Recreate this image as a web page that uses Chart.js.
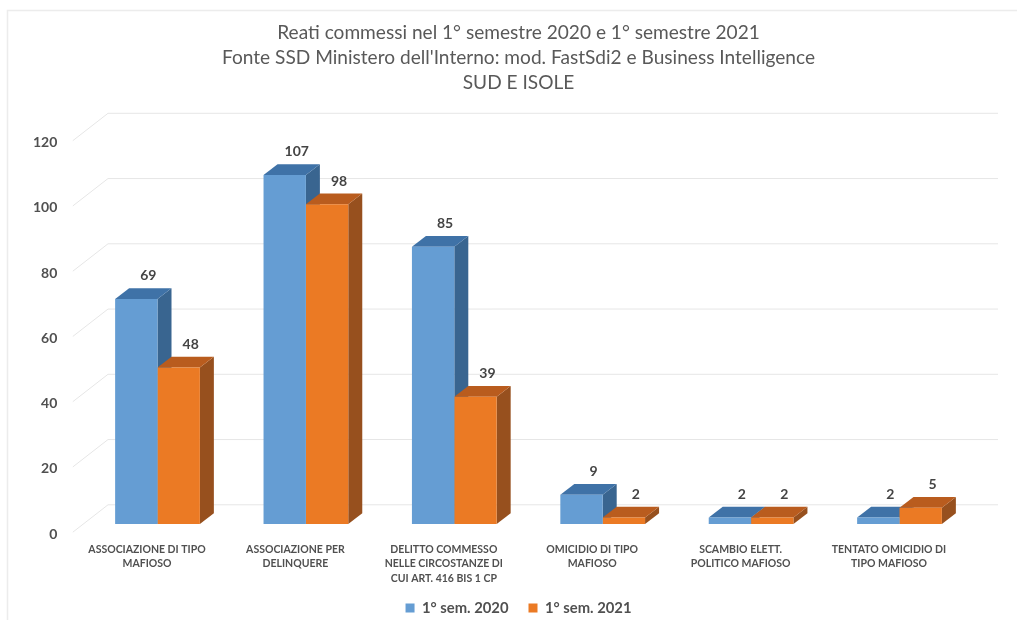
<!DOCTYPE html>
<html>
<head>
<meta charset="utf-8">
<style>
  html, body { margin: 0; padding: 0; background: #fff; overflow: hidden; }
  canvas { display: block; }
</style>
<script src="https://cdn.jsdelivr.net/npm/chart.js@4"></script>
</head>
<body>
<canvas id="chart" width="1017" height="620"></canvas>
<script>
const categories = [
  ['ASSOCIAZIONE DI TIPO', 'MAFIOSO'],
  ['ASSOCIAZIONE PER', 'DELINQUERE'],
  ['DELITTO COMMESSO', 'NELLE CIRCOSTANZE DI', 'CUI ART. 416 BIS 1 CP'],
  ['OMICIDIO DI TIPO', 'MAFIOSO'],
  ['SCAMBIO ELETT.', 'POLITICO MAFIOSO'],
  ['TENTATO OMICIDIO DI', 'TIPO MAFIOSO'],
];
const sem2020 = [69, 107, 85, 9, 2, 2];
const sem2021 = [48, 98, 39, 2, 2, 5];
const seriesNames = ['1° sem. 2020', '1° sem. 2021'];
const titleLines = [
  'Reati commessi nel 1° semestre 2020 e 1° semestre 2021',
  "Fonte SSD Ministero dell'Interno: mod. FastSdi2 e Business Intelligence",
  'SUD E ISOLE',
];

const fontFamily = 'Lato, sans-serif';
const textColor = '#505050';
const gridColor = '#e6e6e6';
// front, top and side face of each series
const faces = [
  { front: '#659dd3', top: '#3f72a7', side: '#396590' },
  { front: '#eb7a24', top: '#b95c1e', side: '#97501e' },
];
const barDepth = { x: 14, y: 10.7 };

// frame, walls and the top/side faces go under the library's bars
const box3d = {
  id: 'box3d',
  afterLayout(chart) {
    // the x labels get clipped to the scale box, the third line needs more room
    chart.scales.x.bottom += 12;
  },
  beforeDraw(chart) {
    const { ctx } = chart;
    ctx.save();
    ctx.strokeStyle = '#ececec';
    ctx.lineWidth = 1.5;
    ctx.beginPath();
    ctx.moveTo(7.5, 620);
    ctx.lineTo(7.5, 10.5);
    ctx.lineTo(1017, 10.5);
    ctx.stroke();
    ctx.restore();
  },
  beforeDatasetsDraw(chart) {
    const { ctx, chartArea } = chart;
    const yScale = chart.scales.y;
    ctx.save();
    ctx.strokeStyle = gridColor;
    ctx.lineWidth = 1;
    yScale.ticks.forEach((t) => {
      const py = yScale.getPixelForValue(t.value);
      ctx.beginPath();
      ctx.moveTo(chartArea.left - 10.5, py + 8.2);
      ctx.lineTo(chartArea.left + 24.7, py - 19.2);
      ctx.lineTo(chartArea.right + 24.3, py - 19.2);
      ctx.stroke();
    });
    chart.data.datasets.forEach((ds, d) => {
      chart.getDatasetMeta(d).data.forEach((bar) => {
        const l = bar.x - bar.width / 2;
        const r = bar.x + bar.width / 2;
        // side
        ctx.fillStyle = faces[d].side;
        ctx.beginPath();
        ctx.moveTo(r, bar.y);
        ctx.lineTo(r + barDepth.x, bar.y - barDepth.y);
        ctx.lineTo(r + barDepth.x, bar.base - barDepth.y);
        ctx.lineTo(r, bar.base);
        ctx.closePath();
        ctx.fill();
        // top
        ctx.fillStyle = faces[d].top;
        ctx.beginPath();
        ctx.moveTo(l, bar.y);
        ctx.lineTo(l + barDepth.x, bar.y - barDepth.y);
        ctx.lineTo(r + barDepth.x, bar.y - barDepth.y);
        ctx.lineTo(r, bar.y);
        ctx.closePath();
        ctx.fill();
      });
    });
    ctx.restore();
  },
  afterDatasetsDraw(chart) {
    const { ctx } = chart;
    ctx.save();
    ctx.fillStyle = '#444444';
    ctx.font = 'bold 14px ' + fontFamily;
    ctx.textAlign = 'center';
    ctx.textBaseline = 'middle';
    chart.data.datasets.forEach((ds, d) => {
      chart.getDatasetMeta(d).data.forEach((bar, i) => {
        ctx.fillText(ds.data[i], bar.x + 12, bar.y - 23);
      });
    });
    ctx.restore();
  },
};

new Chart(document.getElementById('chart').getContext('2d'), {
  type: 'bar',
  data: {
    labels: categories,
    datasets: [
      { label: seriesNames[0], data: sem2020, backgroundColor: faces[0].front },
      { label: seriesNames[1], data: sem2021, backgroundColor: faces[1].front },
    ],
  },
  options: {
    responsive: false,
    animation: false,
    layout: { padding: { left: 20, right: 0, top: 0, bottom: -5.4 } },
    datasets: { bar: { categoryPercentage: 0.571, barPercentage: 1, borderWidth: 0 } },
    scales: {
      x: {
        grid: { display: false, drawTicks: false },
        border: { display: false },
        afterFit: (s) => { s.height = 56.6; },
        ticks: {
          autoSkip: false,
          maxRotation: 0,
          padding: 18,
          labelOffset: -10.5,
          color: textColor,
          font: { family: fontFamily, size: 10.5, weight: 'bold', lineHeight: 1.4 },
        },
      },
      y: {
        min: 0,
        max: 120,
        grid: { display: false, drawTicks: false },
        border: { display: false },
        afterFit: (s) => { s.width = 63.3; },
        ticks: {
          stepSize: 20,
          padding: 26,
          labelOffset: 10,
          color: textColor,
          font: { family: fontFamily, size: 14, weight: 'bold' },
        },
      },
      // empty axis, only keeps the plot clear of the right edge
      y2: {
        position: 'right',
        grid: { display: false, drawTicks: false },
        border: { display: false },
        ticks: { display: false },
        afterFit: (s) => { s.width = 43.3; },
      },
    },
    plugins: {
      title: {
        display: true,
        text: titleLines,
        color: '#595959',
        font: { family: fontFamily, size: 19.1, weight: 'normal', lineHeight: 25.3 / 19.1 },
        padding: { top: 19.85, bottom: 36.75 },
      },
      legend: {
        position: 'bottom',
        labels: {
          boxWidth: 9,
          boxHeight: 9,
          padding: 20,
          color: textColor,
          font: { family: fontFamily, size: 14.8, weight: 'bold' },
        },
      },
    },
  },
  plugins: [box3d],
});
</script>
</body>
</html>
